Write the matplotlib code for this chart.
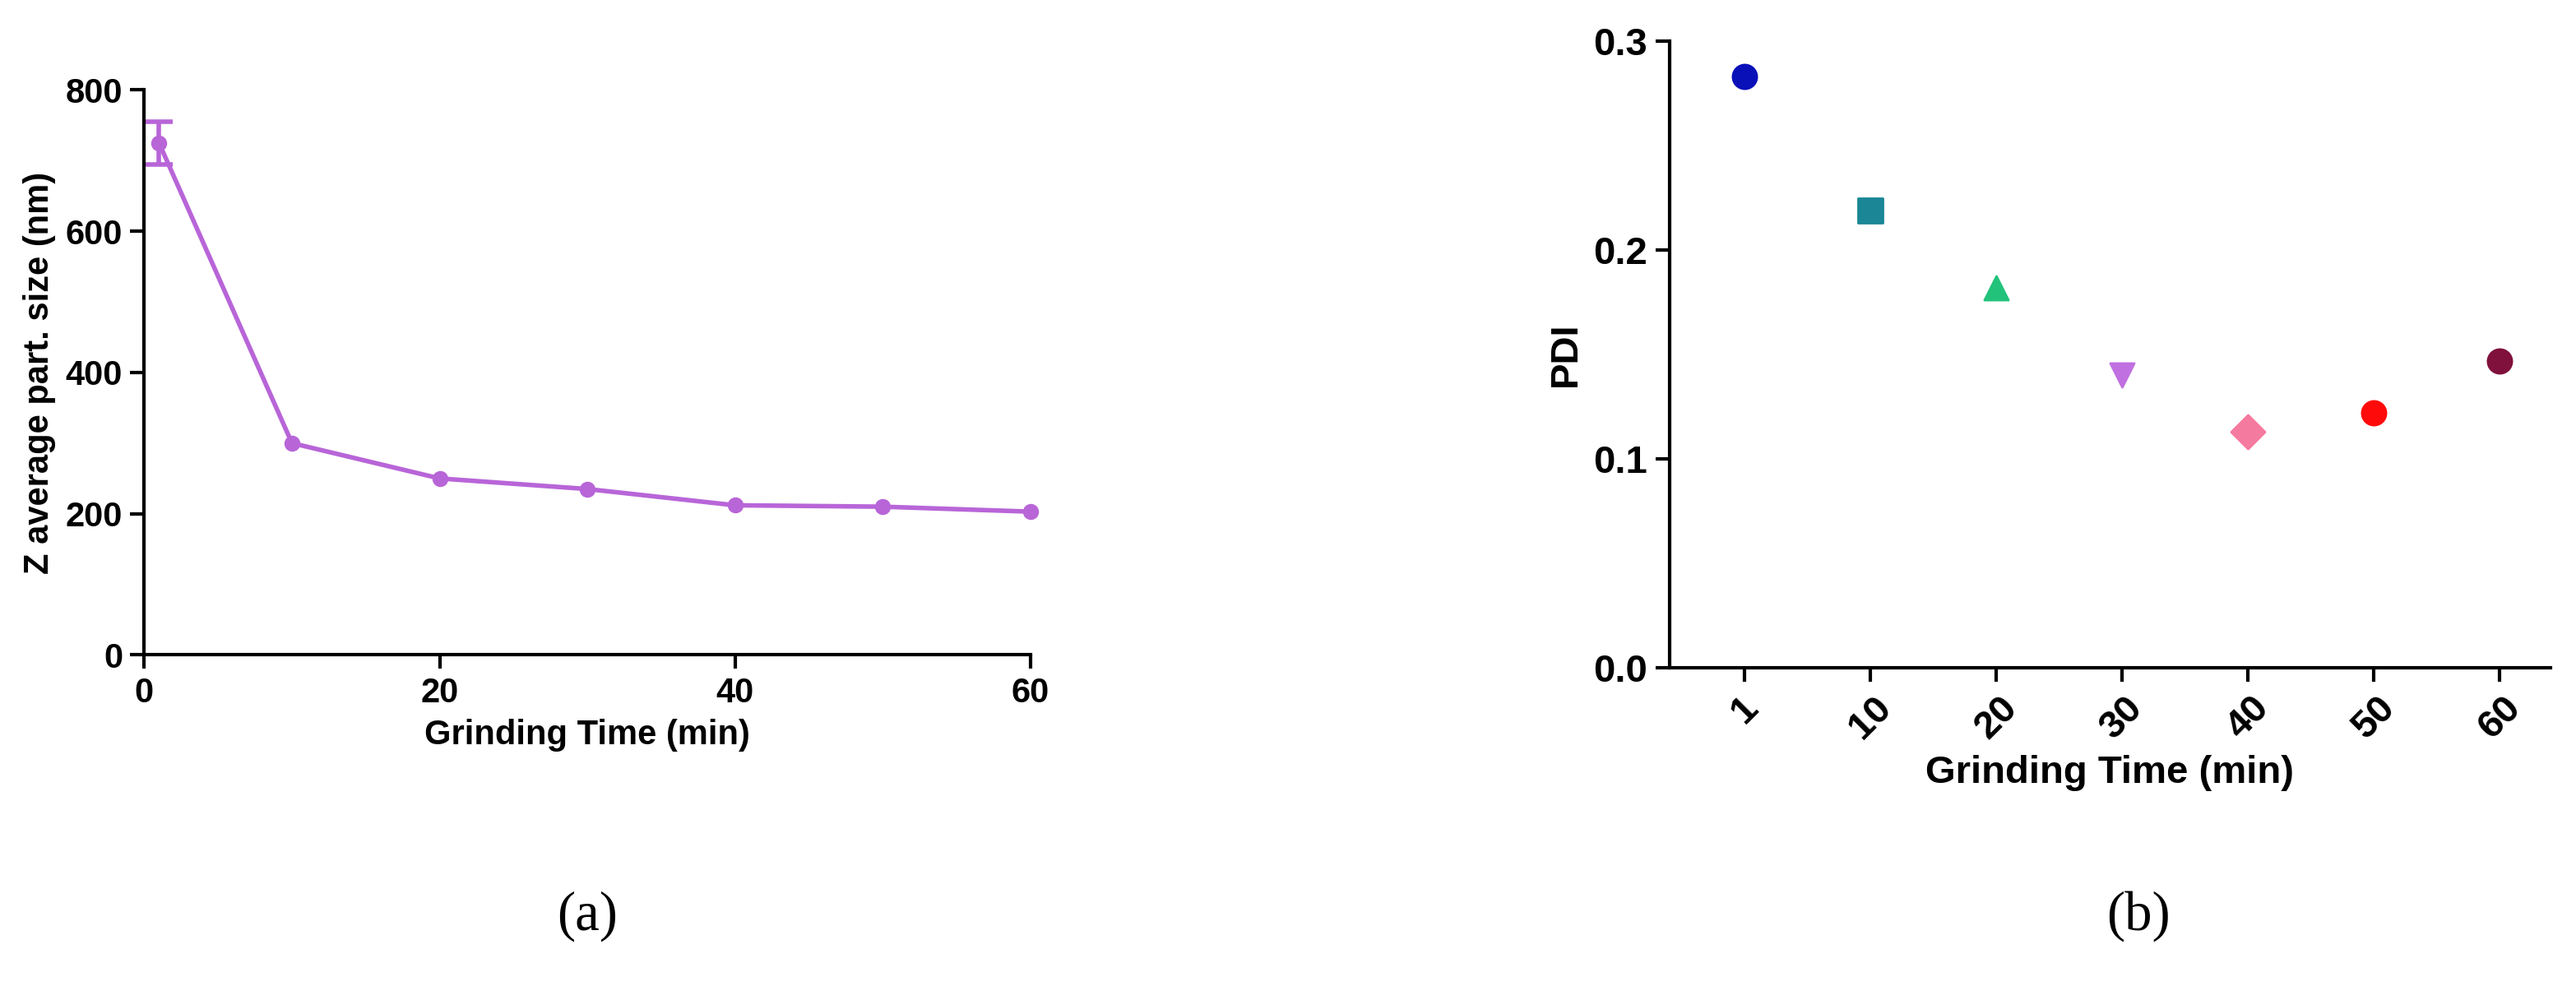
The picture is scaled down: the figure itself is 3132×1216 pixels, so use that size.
import matplotlib.pyplot as plt

# panel (a) data
time_a = [1, 10, 20, 30, 40, 50, 60]
zavg = [725, 300, 250, 235, 212, 210, 203]
err_first = 30

# panel (b) data
time_labels = ['1', '10', '20', '30', '40', '50', '60']
pdi = [0.283, 0.219, 0.182, 0.140, 0.113, 0.122, 0.147]
pdi_colors = ['#0a10b8', '#1a8696', '#22c27a', '#c070e0', '#f47aa0', '#ff0a0a', '#80103c']
pdi_markers = ['o', 's', '^', 'v', 'D', 'o', 'o']

plt.rcParams['font.family'] = 'Liberation Sans'
plt.rcParams['font.weight'] = 'bold'

fig = plt.figure(figsize=(15.66, 6.08), dpi=200)

ax1 = fig.add_axes([0.056, 0.345, 0.344, 0.565])
ax1.plot(time_a, zavg, color='#b865d8', marker='o', markersize=6, linewidth=2, clip_on=False)
ax1.errorbar(time_a[:1], zavg[:1], yerr=[err_first], color='#b865d8', fmt='none',
             capsize=6, elinewidth=2, capthick=2)
ax1.set_xlim(0, 60)
ax1.set_ylim(0, 800)
ax1.set_xticks([0, 20, 40, 60])
ax1.set_yticks([0, 200, 400, 600, 800])
ax1.set_xlabel('Grinding Time (min)', fontsize=15, fontweight='bold')
ax1.set_ylabel('Z average part. size (nm)', fontsize=15, fontweight='bold')

ax2 = fig.add_axes([0.648, 0.332, 0.342, 0.627])
for i in range(len(pdi)):
    ax2.scatter(i, pdi[i], color=pdi_colors[i], marker=pdi_markers[i], s=110, zorder=3)
ax2.set_xlim(-0.6, 6.4)
ax2.set_ylim(0, 0.3)
ax2.set_yticks([0.0, 0.1, 0.2, 0.3])
ax2.set_xticks(range(len(time_labels)))
ax2.set_xticklabels(time_labels, rotation=45)
ax2.set_xlabel('Grinding Time (min)', fontsize=17, fontweight='bold')
ax2.set_ylabel('PDI', fontsize=17, fontweight='bold')

for ax, ls in ((ax1, 15), (ax2, 17)):
    for s in ('top', 'right'):
        ax.spines[s].set_visible(False)
    for s in ('left', 'bottom'):
        ax.spines[s].set_linewidth(1.5)
    ax.tick_params(width=1.5, length=6, labelsize=ls)
    for lab in ax.get_xticklabels() + ax.get_yticklabels():
        lab.set_fontweight('bold')

fig.text(0.228, 0.07, '(a)', ha='center', fontsize=24, family='Liberation Serif', fontweight='normal')
fig.text(0.83, 0.07, '(b)', ha='center', fontsize=24, family='Liberation Serif', fontweight='normal')
fig.savefig('out.png')
